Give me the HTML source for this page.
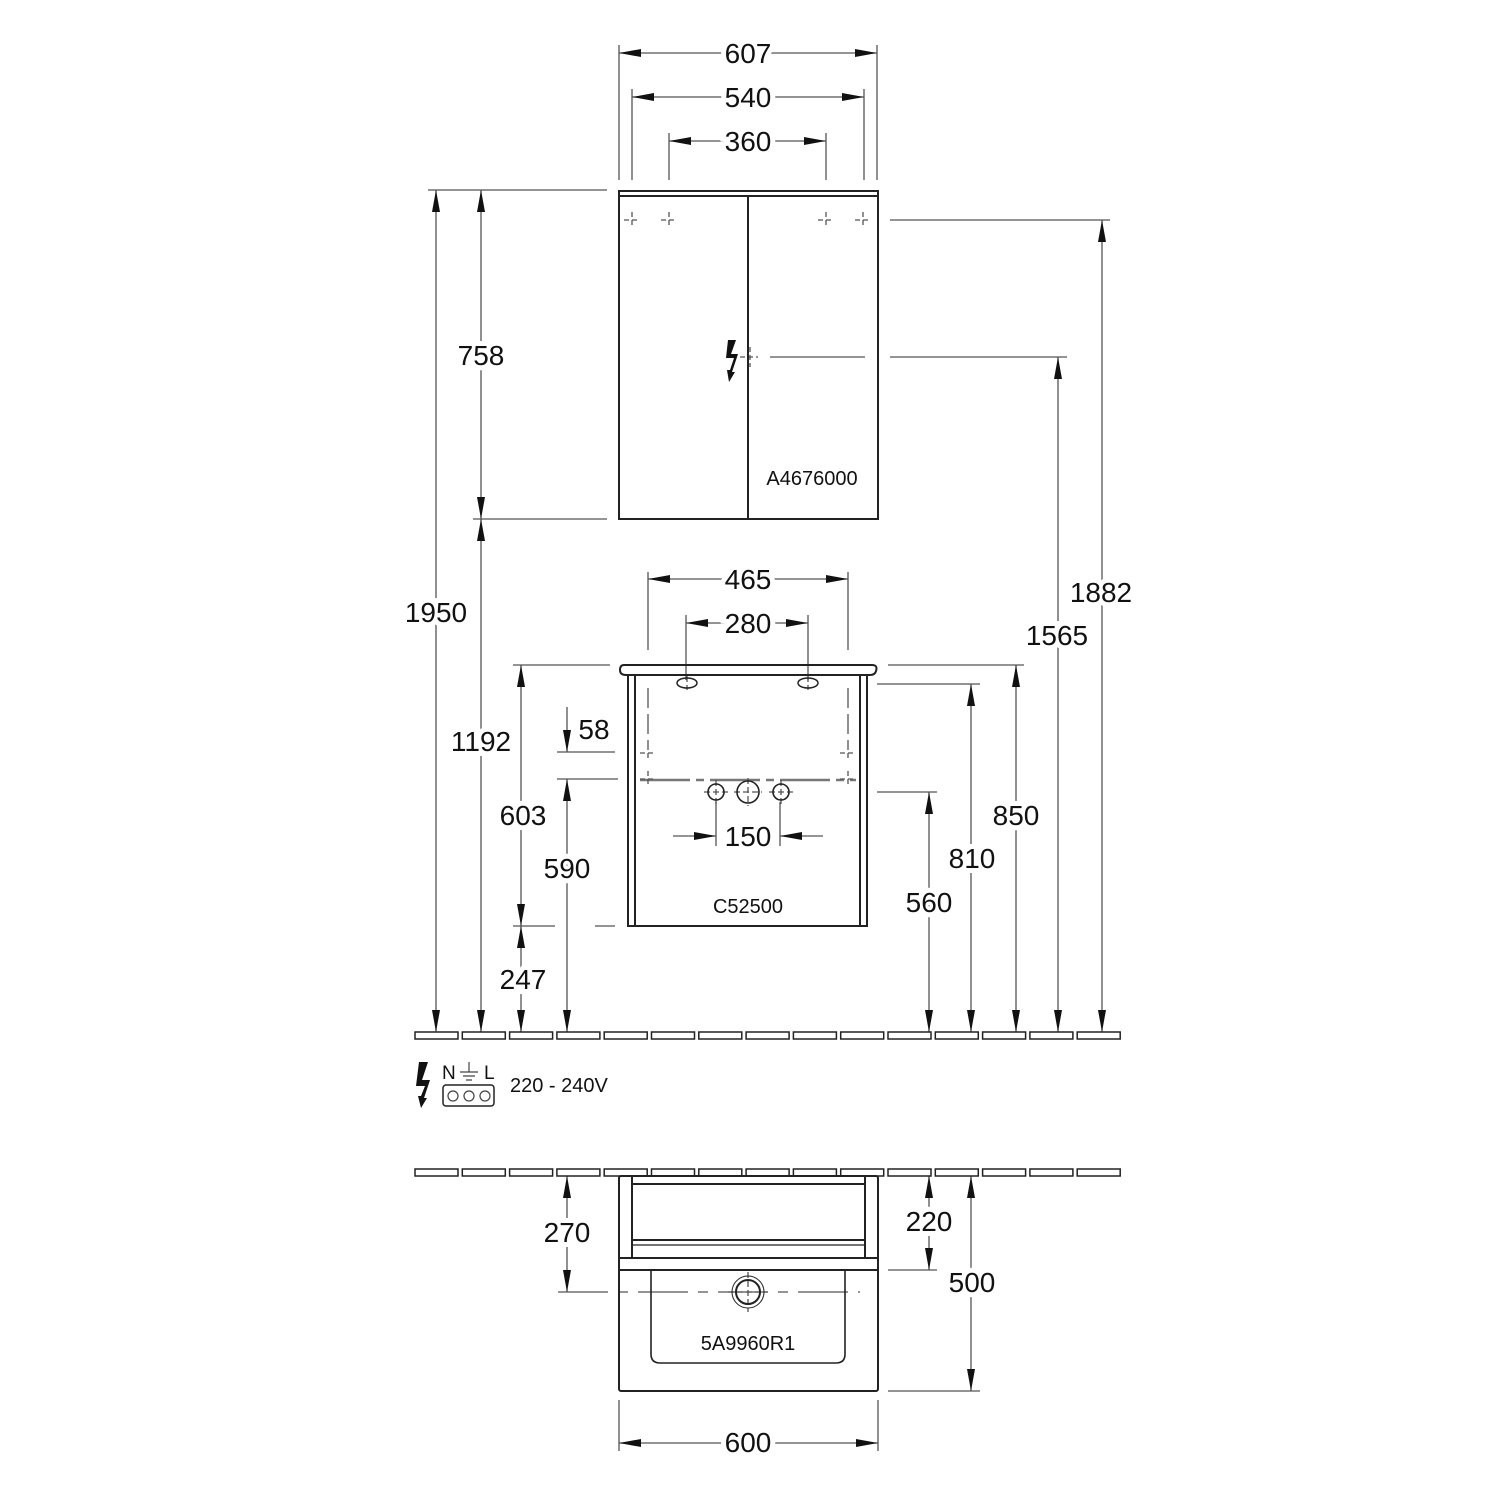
<!DOCTYPE html>
<html><head><meta charset="utf-8"><style>
html,body{margin:0;padding:0;background:#fff}
svg{display:block}
text{font-family:"Liberation Sans",sans-serif;fill:#111}
.d{stroke:#555;stroke-width:1.3;fill:none}
.o{stroke:#222;stroke-width:2;fill:none}
.t{font-size:28px;text-anchor:middle;stroke:#fff;stroke-width:10;paint-order:stroke}
.s{font-size:20px;text-anchor:middle}
</style></head><body>
<svg width="1500" height="1500" viewBox="0 0 1500 1500" xmlns="http://www.w3.org/2000/svg">
<defs>
<marker id="a" markerUnits="userSpaceOnUse" markerWidth="24" markerHeight="10" refX="22" refY="4" orient="auto-start-reverse"><path d="M0,0 L22,4 L0,8 z" fill="#111"/></marker>
</defs>
<g class="d" marker-start="url(#a)" marker-end="url(#a)">
<line x1="619" y1="53" x2="877" y2="53"/>
<line x1="632" y1="97" x2="864" y2="97"/>
<line x1="669" y1="141" x2="826" y2="141"/>
<line x1="436" y1="190" x2="436" y2="1032"/>
<line x1="481" y1="190" x2="481" y2="519"/>
<line x1="481" y1="519" x2="481" y2="1032"/>
<line x1="1102" y1="220" x2="1102" y2="1032"/>
<line x1="1058" y1="357" x2="1058" y2="1032"/>
<line x1="648" y1="579" x2="848" y2="579"/>
<line x1="686" y1="623" x2="808" y2="623"/>
<line x1="521" y1="665" x2="521" y2="926"/>
<line x1="567" y1="779" x2="567" y2="1032"/>
<line x1="929" y1="792" x2="929" y2="1032"/>
<line x1="971" y1="684" x2="971" y2="1032"/>
<line x1="1016" y1="665" x2="1016" y2="1032"/>
<line x1="567" y1="1176" x2="567" y2="1292"/>
<line x1="929" y1="1176" x2="929" y2="1270"/>
<line x1="971" y1="1176" x2="971" y2="1391"/>
<line x1="619" y1="1443" x2="878" y2="1443"/>
</g>
<g class="d" marker-end="url(#a)">
<line x1="567" y1="707" x2="567" y2="752"/>
<line x1="521" y1="970" x2="521" y2="926"/>
<line x1="521" y1="990" x2="521" y2="1032"/>
<line x1="673" y1="836" x2="716" y2="836"/>
<line x1="823" y1="836" x2="780" y2="836"/>
</g>
<g class="d">
<line x1="619" y1="45" x2="619" y2="180"/><line x1="877" y1="45" x2="877" y2="180"/>
<line x1="632" y1="89" x2="632" y2="180"/><line x1="864" y1="89" x2="864" y2="180"/>
<line x1="669" y1="133" x2="669" y2="180"/><line x1="826" y1="133" x2="826" y2="180"/>
<line x1="428" y1="190" x2="607" y2="190"/>
<line x1="473" y1="519" x2="607" y2="519"/>
<line x1="890" y1="220" x2="1110" y2="220"/>
<line x1="890" y1="357" x2="1067" y2="357"/>
<line x1="770" y1="357" x2="865" y2="357"/>
<line x1="648" y1="572" x2="648" y2="650"/><line x1="848" y1="572" x2="848" y2="650"/>
<line x1="686" y1="615" x2="686" y2="680"/><line x1="808" y1="615" x2="808" y2="680"/>
<line x1="513" y1="665" x2="610" y2="665"/>
<line x1="513" y1="926" x2="555" y2="926"/><line x1="595" y1="926" x2="615" y2="926"/>
<line x1="557" y1="752" x2="615" y2="752"/>
<line x1="557" y1="779" x2="618" y2="779"/>
<line x1="877" y1="792" x2="937" y2="792"/>
<line x1="877" y1="684" x2="980" y2="684"/>
<line x1="888" y1="665" x2="1024" y2="665"/>
<line x1="716" y1="802" x2="716" y2="846"/><line x1="780" y1="802" x2="780" y2="846"/>
<line x1="888" y1="1270" x2="937" y2="1270"/>
<line x1="888" y1="1391" x2="980" y2="1391"/>
<line x1="619" y1="1400" x2="619" y2="1451"/><line x1="878" y1="1400" x2="878" y2="1451"/>
<line x1="558" y1="1292" x2="860" y2="1292" stroke-dasharray="50,10,10,10"/>
<line x1="648" y1="688" x2="648" y2="745" stroke-dasharray="20,6"/>
<line x1="848" y1="688" x2="848" y2="745" stroke-dasharray="20,6"/>
<line x1="640" y1="780" x2="856" y2="780" stroke-width="2.5" stroke="#777" stroke-dasharray="50,6,8,6"/>
<path d="M624,220h16M632,212v16 M661,220h16M669,212v16 M818,220h16M826,212v16 M855,220h16M863,212v16 M740,357h18M750,347v20 M640,753h16M648,745v16 M840,753h16M848,745v16 M640,779h16M648,771v16 M840,779h16M848,771v16" stroke-dasharray="5,3"/>
<path d="M704,792h24M716,780v24 M734,792h28M748,778v28 M769,792h24M781,780v24 M728,1292h40M748,1272v40 M687,676v14 M808,676v14" stroke-dasharray="6,3"/>
</g>
<g class="o">
<rect x="619" y="191" width="259" height="328"/>
<line x1="619" y1="196" x2="878" y2="196"/>
<line x1="748" y1="196" x2="748" y2="519"/>
</g>
<path d="M728,340 L736,340 L731,354 L738,354 L732,372 L735,372 L729,382 L727,370 L730,370 L734,358 L726,358 Z" fill="#111"/>
<text class="s" x="812" y="485">A4676000</text>
<g class="o">
<path d="M624,665 H872 Q878,665 876,671 Q875,675 870,675 H626 Q620,675 620,670 Q620,665 624,665Z"/>
<rect x="628" y="675" width="239" height="251"/>
<line x1="635" y1="675" x2="635" y2="926"/><line x1="860" y1="675" x2="860" y2="926"/>
<ellipse cx="687" cy="683" rx="10" ry="5" stroke-width="1.5"/>
<ellipse cx="808" cy="683" rx="10" ry="5" stroke-width="1.5"/>
<circle cx="716" cy="792" r="8" stroke-width="1.6"/>
<circle cx="748" cy="792" r="11" stroke-width="1.6"/>
<circle cx="781" cy="792" r="8" stroke-width="1.6"/>
</g>
<text class="s" x="748" y="913">C52500</text>
<g fill="#fff" stroke="#222" stroke-width="1.5">
<rect x="415" y="1032" width="43" height="7"/><rect x="462.3" y="1032" width="43" height="7"/><rect x="509.6" y="1032" width="43" height="7"/><rect x="556.9" y="1032" width="43" height="7"/><rect x="604.2" y="1032" width="43" height="7"/><rect x="651.5" y="1032" width="43" height="7"/><rect x="698.8" y="1032" width="43" height="7"/><rect x="746.1" y="1032" width="43" height="7"/><rect x="793.4" y="1032" width="43" height="7"/><rect x="840.7" y="1032" width="43" height="7"/><rect x="888" y="1032" width="43" height="7"/><rect x="935.3" y="1032" width="43" height="7"/><rect x="982.6" y="1032" width="43" height="7"/><rect x="1029.9" y="1032" width="43" height="7"/><rect x="1077.2" y="1032" width="43" height="7"/>
<rect x="415" y="1169" width="43" height="7"/><rect x="462.3" y="1169" width="43" height="7"/><rect x="509.6" y="1169" width="43" height="7"/><rect x="556.9" y="1169" width="43" height="7"/><rect x="604.2" y="1169" width="43" height="7"/><rect x="651.5" y="1169" width="43" height="7"/><rect x="698.8" y="1169" width="43" height="7"/><rect x="746.1" y="1169" width="43" height="7"/><rect x="793.4" y="1169" width="43" height="7"/><rect x="840.7" y="1169" width="43" height="7"/><rect x="888" y="1169" width="43" height="7"/><rect x="935.3" y="1169" width="43" height="7"/><rect x="982.6" y="1169" width="43" height="7"/><rect x="1029.9" y="1169" width="43" height="7"/><rect x="1077.2" y="1169" width="43" height="7"/>
</g>
<path d="M419,1062 L428,1062 L422,1080 L430,1080 L424,1098 L427,1098 L421,1108 L418,1096 L421,1096 L425,1086 L416,1086 Z" fill="#111"/>
<text x="442" y="1079" style="font-size:19px">N</text>
<text x="484" y="1079" style="font-size:19px">L</text>
<path d="M469,1062v10 M460,1072h18 M463,1076h12 M466,1080h6" stroke="#444" stroke-width="1.2"/>
<rect x="443" y="1085" width="51" height="21" rx="3" fill="none" stroke="#222" stroke-width="1.5"/>
<g fill="none" stroke="#444" stroke-width="1.2"><circle cx="453" cy="1096" r="5"/><circle cx="469" cy="1096" r="5"/><circle cx="485" cy="1096" r="5"/></g>
<text x="510" y="1092" style="font-size:20px">220 - 240V</text>
<g class="o">
<rect x="619" y="1176" width="259" height="215" rx="2"/>
<line x1="632" y1="1176" x2="632" y2="1258"/><line x1="865" y1="1176" x2="865" y2="1258"/>
<line x1="632" y1="1184" x2="865" y2="1184"/>
<line x1="632" y1="1240" x2="865" y2="1240"/>
<line x1="632" y1="1245" x2="865" y2="1245" stroke-width="1.2"/>
<line x1="619" y1="1258" x2="878" y2="1258"/>
<line x1="619" y1="1270" x2="878" y2="1270"/>
<path d="M651,1270 V1354 Q651,1363 660,1363 H836 Q845,1363 845,1354 V1270" stroke-width="1.6"/>
<circle cx="748" cy="1292" r="12"/>
<circle cx="748" cy="1292" r="16" stroke-width="1"/>
</g>
<text class="s" x="748" y="1350">5A9960R1</text>
<text class="t" x="748" y="63">607</text>
<text class="t" x="748" y="107">540</text>
<text class="t" x="748" y="151">360</text>
<text class="t" x="436" y="622">1950</text>
<text class="t" x="481" y="365">758</text>
<text class="t" x="481" y="751">1192</text>
<text class="t" x="1101" y="602">1882</text>
<text class="t" x="1057" y="645">1565</text>
<text class="t" x="748" y="589">465</text>
<text class="t" x="748" y="633">280</text>
<text class="t" x="594" y="739">58</text>
<text class="t" x="523" y="825">603</text>
<text class="t" x="567" y="878">590</text>
<text class="t" x="523" y="989">247</text>
<text class="t" x="748" y="846">150</text>
<text class="t" x="929" y="912">560</text>
<text class="t" x="972" y="868">810</text>
<text class="t" x="1016" y="825">850</text>
<text class="t" x="567" y="1242">270</text>
<text class="t" x="929" y="1231">220</text>
<text class="t" x="972" y="1292">500</text>
<text class="t" x="748" y="1452">600</text>
</svg>
</body></html>
